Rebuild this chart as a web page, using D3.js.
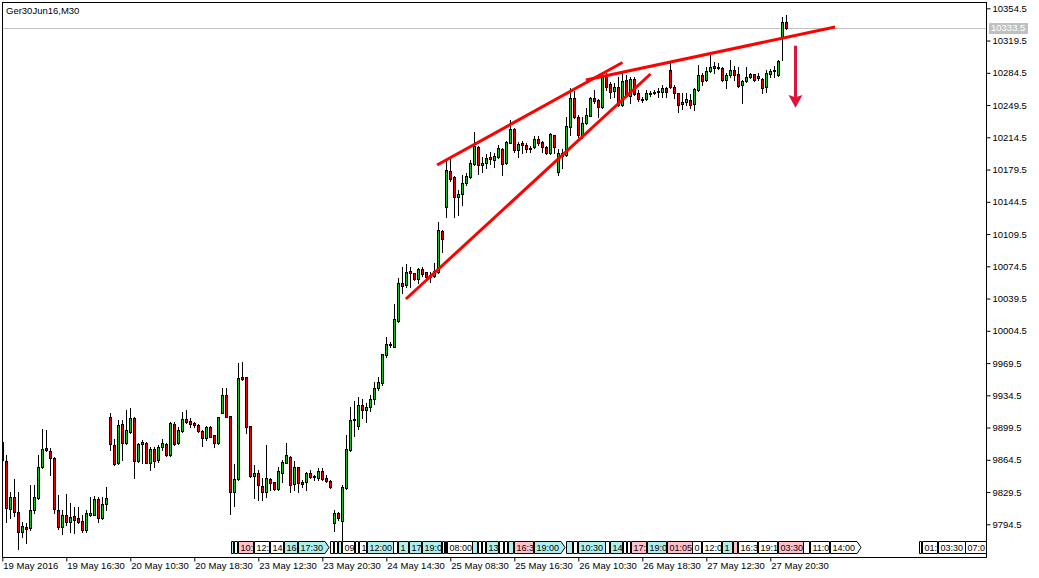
<!DOCTYPE html>
<html><head><meta charset="utf-8">
<script src="https://cdn.jsdelivr.net/npm/d3@7"></script>
<style>
body{margin:0;background:#fff;}
svg{display:block;font-family:"Liberation Sans",Arial,sans-serif;}
</style></head><body>
<svg id="c" width="1039" height="578"></svg>
<script>
// ---------------- DATA ----------------
const symbolTitle = "Ger30Jun16,M30";
const lastPrice = 10333.5;

const opens = [9884,9863.1,9811.0,9824.0,9807.4,9786.4,9791.1,9790.0,9809.6,9823.3,9856.6,9876.9,9874.0,9866.0,9809.6,9791.1,9804.5,9797.3,9803.1,9800.9,9798.0,9787.9,9804.9,9804.9,9821.9,9800.9,9816.1,9910.9,9880.5,9860.6,9903.3,9883.0,9895.0,9909.4,9863.1,9881.2,9882.3,9860.6,9876.1,9864.2,9878.0,9881.2,9869.3,9903.3,9882.3,9896.0,9908.3,9906.5,9904.4,9902.2,9895.7,9887.7,9900.4,9891.0,9882.3,9915.6,9934.8,9912.0,9829.8,9843.2,9953.9,9953.9,9901.1,9847.2,9849.7,9836.0,9829.8,9843.6,9840.0,9832.4,9850.5,9861.3,9867.8,9837.8,9856.2,9840.0,9840.0,9849.7,9845.4,9844.7,9851.9,9844.3,9841.8,9796.2,9806.3,9798.0,9833.4,9875.1,9907.3,9901.5,9923.6,9918.9,9922.1,9930.0,9942.0,9947.4,9978.2,9989.8,9987.2,10015.5,10056.0,10054.2,10069.4,10066.8,10061.0,10071.2,10067.9,10063.2,10064.3,10068.6,10112.8,10139.2,10177.9,10171.0,10150.0,10152.5,10164.5,10171.0,10185.1,10203.9,10184.0,10186.2,10192.7,10189.8,10192.7,10201.4,10186.2,10208.6,10223.1,10200.7,10207.9,10206.1,10201.5,10203.6,10212.2,10209.4,10204.3,10197.1,10216.6,10177.2,10197.1,10195.2,10226.0,10256.7,10236.1,10216.2,10229.6,10237.9,10256.7,10255.0,10247.0,10282.0,10272.0,10264.8,10269.5,10249.6,10276.7,10259.7,10277.8,10262.2,10256.1,10255.7,10261.1,10262.2,10263.3,10263.3,10267.6,10287.5,10269.5,10262.2,10250.3,10253.2,10255.0,10250.3,10265.8,10282.1,10276.3,10286.8,10291.9,10290.1,10290.1,10276.7,10282.1,10287.5,10282.8,10271.3,10275.6,10279.9,10282.8,10278.5,10277.8,10268.7,10282.8,10286.5,10282.1,10321.9,10339.3];
const highs = [9887,9869.6,9829.8,9843.2,9829.8,9796.5,9795.8,9837.1,9837.1,9869.6,9897.9,9896.8,9876.9,9867.8,9826.2,9809.6,9826.9,9817.2,9813.6,9813.6,9804.5,9809.9,9824.4,9825.5,9824.4,9824.4,9835.3,9914.9,9886.6,9907.6,9907.6,9918.5,9920.3,9910.5,9882.3,9885.9,9884.1,9878.7,9878.7,9880.5,9886.6,9882.3,9905.8,9905.8,9900.4,9916.7,9918.5,9909.4,9905.8,9902.9,9896.8,9901.1,9901.1,9891.3,9910.5,9942.0,9942.0,9912.0,9859.9,9969.1,9970.2,9954.6,9901.1,9858.8,9853.4,9844.3,9880.5,9844.3,9840.7,9857.0,9864.2,9883.0,9868.5,9863.1,9857.0,9842.5,9851.5,9853.4,9847.9,9855.2,9855.2,9847.9,9842.5,9809.9,9808.1,9837.1,9891.3,9922.1,9928.0,9932.2,9930.8,9925.7,9934.8,9949.3,9954.7,9979.3,9997.4,9992.7,10033.6,10062.1,10074.1,10077.0,10073.3,10067.5,10072.3,10073.3,10068.6,10068.3,10077.7,10122.9,10113.9,10190.5,10191.6,10172.4,10157.3,10173.5,10175.3,10189.8,10219.8,10205.0,10192.7,10196.3,10198.9,10197.8,10206.1,10202.5,10210.4,10233.2,10224.2,10209.7,10210.4,10208.6,10205.0,10216.2,10215.9,10210.8,10205.0,10218.8,10217.0,10201.4,10201.4,10236.8,10267.6,10265.1,10238.7,10236.8,10245.9,10258.6,10265.8,10255.7,10285.7,10283.9,10274.9,10273.1,10280.3,10283.9,10282.1,10280.3,10280.3,10265.8,10258.6,10265.8,10264.8,10265.8,10267.6,10271.3,10269.5,10294.8,10271.3,10263.0,10262.2,10262.2,10261.1,10267.6,10293.0,10283.9,10291.2,10303.8,10296.6,10294.8,10291.2,10283.9,10298.4,10291.9,10291.2,10276.7,10291.2,10283.9,10283.2,10283.9,10278.5,10287.5,10288.3,10291.9,10298.4,10345.4,10347.2];
const lows = [9858,9797.3,9800.9,9803.8,9768.0,9781.0,9773.8,9788.2,9806.3,9822.2,9855.2,9874.0,9847.9,9806.3,9789.0,9783.5,9793.7,9785.7,9785.3,9795.5,9786.4,9786.4,9803.8,9804.5,9797.3,9800.2,9810.0,9875.1,9858.8,9859.9,9864.2,9881.6,9893.1,9845.0,9862.4,9861.3,9860.6,9853.4,9856.2,9862.4,9875.1,9868.5,9868.5,9880.1,9881.2,9895.0,9904.0,9900.4,9900.4,9895.0,9879.8,9885.9,9888.8,9878.7,9881.6,9915.6,9910.5,9805.2,9814.3,9842.5,9951.0,9893.1,9846.1,9822.6,9820.8,9820.8,9824.4,9831.6,9831.6,9831.6,9840.7,9860.6,9829.8,9831.6,9829.8,9835.3,9831.6,9844.3,9842.5,9842.5,9842.5,9840.7,9833.4,9787.1,9799.1,9777.4,9832.4,9874.3,9890.0,9898.0,9909.5,9905.8,9917.4,9925.4,9940.2,9945.6,9976.4,9987.2,9986.5,10014.4,10045.8,10052.4,10052.4,10059.6,10056.0,10063.9,10059.6,10057.8,10063.2,10067.5,10090.4,10128.3,10167.4,10127.6,10130.1,10141.0,10162.7,10169.9,10184.4,10174.3,10177.2,10180.8,10185.1,10182.6,10191.6,10173.2,10185.1,10207.9,10198.9,10193.4,10197.1,10198.9,10198.9,10202.8,10206.1,10198.9,10196.0,10196.3,10197.8,10173.5,10180.8,10194.2,10217.0,10235.0,10215.1,10213.3,10228.9,10237.6,10251.3,10236.8,10245.9,10265.8,10257.5,10258.6,10248.8,10248.8,10258.6,10251.4,10260.4,10254.3,10253.2,10255.0,10259.7,10261.1,10258.6,10258.6,10258.6,10268.4,10256.8,10241.6,10245.2,10249.6,10246.7,10244.1,10264.8,10271.3,10275.6,10285.7,10283.9,10288.6,10275.6,10268.4,10280.3,10276.7,10269.5,10252.1,10274.9,10278.5,10275.6,10276.7,10262.2,10264.0,10280.3,10280.3,10281.4,10298.4,10332.1];
const closes = [9864,9812.5,9824.0,9807.4,9786.4,9792.2,9789.0,9809.6,9824.0,9856.6,9876.1,9874.7,9866.0,9810.7,9791.1,9804.5,9797.3,9802.3,9799.4,9796.5,9787.9,9806.7,9806.7,9821.9,9800.9,9816.8,9823.3,9881.2,9859.5,9902.2,9882.3,9896.8,9909.4,9863.1,9881.2,9883.7,9861.3,9876.1,9863.1,9878.7,9882.3,9869.3,9904.0,9881.2,9896.8,9908.3,9905.8,9903.6,9902.6,9895.7,9888.4,9899.7,9889.5,9882.3,9910.5,9934.8,9911.2,9829.8,9843.2,9952.8,9951.8,9900.4,9847.2,9849.7,9837.1,9829.8,9844.3,9838.9,9832.4,9852.3,9861.7,9869.3,9837.4,9857.0,9838.9,9837.8,9849.7,9846.1,9846.8,9851.9,9844.0,9841.8,9835.3,9806.3,9800.9,9834.5,9876.1,9907.3,9908.7,9923.9,9918.1,9921.8,9930.4,9942.0,9948.5,9979.3,9990.1,9989.0,10017.3,10056.0,10053.4,10067.9,10067.6,10061.0,10071.2,10066.1,10063.2,10064.7,10069.4,10113.9,10103.7,10179.0,10168.8,10150.0,10152.5,10164.5,10172.4,10186.2,10205.0,10184.0,10186.2,10191.6,10190.5,10194.2,10202.5,10185.1,10209.0,10223.1,10200.3,10207.2,10205.7,10201.4,10203.0,10212.6,10208.6,10204.3,10197.1,10218.0,10203.6,10197.1,10194.2,10226.7,10256.7,10236.1,10217.0,10230.3,10238.7,10256.7,10254.2,10247.7,10282.0,10269.5,10263.3,10269.5,10249.6,10275.6,10259.7,10277.8,10261.1,10255.7,10254.6,10262.2,10262.9,10263.3,10264.8,10268.4,10263.3,10268.7,10262.2,10249.6,10253.2,10255.7,10249.6,10266.6,10282.1,10275.6,10286.5,10291.2,10289.4,10291.2,10276.3,10282.1,10287.5,10282.1,10270.5,10275.6,10280.3,10282.8,10276.7,10281.0,10268.4,10283.9,10286.5,10287.0,10297.3,10339.3,10333.5];

const xTickBars = [0,16,32,48,64,80,96,112,128,144,160,176,192];
const xTickLabels = ["19 May 2016","19 May 16:30","20 May 10:30","20 May 18:30","23 May 12:30","23 May 20:30","24 May 14:30","25 May 08:30","25 May 16:30","26 May 10:30","26 May 18:30","27 May 12:30","27 May 20:30"];
const yTickValues = [9794.5,9829.5,9864.5,9899.5,9934.5,9969.5,10004.5,10039.5,10074.5,10109.5,10144.5,10179.5,10214.5,10249.5,10284.5,10319.5,10354.5];

// trend lines: [bar, price] end points
const upperLine = [[108.7,10184.4],[155.05,10295.7]];
const lowerLine = [[100.9,10039.0],[162.05,10283.2]];
const resistLine = [[145.9,10276.7],[208.2,10334.2]];
const arrowBar = 198.1, arrowFrom = 10313.9, arrowTo = 10246.6;

// calendar events (bar position, time label, impact)
const eventBars = [57.1,58.05,59.0,62.9,66.9,70.4,74.0,81.9,83.0,83.85,84.85,88.25,89.25,91.1,97.7,99.0,101.75,104.85,109.9,110.7,111.1,117.35,119.0,119.85,120.9,124.25,125.4,126.35,127.9,132.9,140.9,142.75,143.85,150.7,151.9,155.1,156.1,157.1,161.1,166.1,172.35,174.85,180.0,182.75,184.0,189.0,194.0,200.25,201.9,206.9,229.2,229.85,234.0,240.7];
const eventLabels = ["08:00","09:00","10:00","12:30","14:00","16:00","17:30","01:50","03:00","08:00","09:00","10:00","11:00","12:00","14:30","16:00","17:00","19:00","01:00","03:00","08:00","09:00","10:00","11:00","13:00","14:00","14:30","15:00","16:30","19:00","08:00","09:00","10:30","13:30","14:30","16:00","16:00","17:00","19:00","01:05","02:00","12:00","14:00","16:00","16:30","19:15","03:30","08:30","11:00","14:00","00:30","01:00","03:30","07:00"];
const eventImpact = ["m","l","h","l","l","m","m","l","l","m","l","l","l","m","l","m","m","m","l","l","l","m","l","l","m","l","l","m","h","m","m","l","m","l","m","l","l","h","m","h","l","l","m","h","l","l","h","l","l","l","l","l","l","l"];

// ---------------- DRAW ----------------
const svg = d3.select("#c");
const L = 3, R = 986, T = 2, B = 557;
const x = d3.scaleLinear().domain([0, 246]).range([2.3, 2.3 + 4 * 246]);
const y = d3.scaleLinear().domain([9794.5, 10354.5]).range([524.3, 8.3]);

svg.append("defs").append("clipPath").attr("id","plotclip")
  .append("rect").attr("x", L).attr("y", T + 1).attr("width", R - L).attr("height", B - T - 1);

const plot = svg.append("g").attr("clip-path","url(#plotclip)");

// current price line
plot.append("line").attr("x1", L).attr("x2", R)
  .attr("y1", Math.round(y(lastPrice)) + 0.5).attr("y2", Math.round(y(lastPrice)) + 0.5)
  .attr("stroke", "#c0c0c0").attr("stroke-width", 1);

// candles
const idx = d3.range(opens.length);
const cg = plot.append("g");
idx.forEach(i => {
  const cx = Math.floor(x(i)) + 0.5;
  const o = opens[i], c = closes[i], h = highs[i], l = lows[i];
  cg.append("line").attr("x1", cx).attr("x2", cx)
    .attr("y1", Math.round(y(h))).attr("y2", Math.round(y(l)) + 1)
    .attr("stroke", "#000").attr("stroke-width", 1);
  const top = Math.round(y(Math.max(o, c))) + 0.5;
  const bot = Math.round(y(Math.min(o, c))) + 0.5;
  if (bot - top < 1) {
    cg.append("line").attr("x1", cx - 1.5).attr("x2", cx + 1.5).attr("y1", top).attr("y2", top)
      .attr("stroke", "#000");
  } else {
    cg.append("rect").attr("x", cx - 1).attr("y", top).attr("width", 2).attr("height", bot - top)
      .attr("fill", c >= o ? "#22b422" : "#e80000").attr("stroke", "#000").attr("stroke-width", 1);
  }
});

// trend lines
const ln = d3.line().x(d => x(d[0])).y(d => y(d[1]));
[upperLine, lowerLine, resistLine].forEach(seg => {
  plot.append("path").attr("d", ln(seg)).attr("fill", "none")
    .attr("stroke", "#ff0000").attr("stroke-width", 3);
});

// arrow
const ax = Math.round(x(arrowBar)) + 0.5;
const tipY = y(arrowTo);
plot.append("line").attr("x1", ax).attr("x2", ax).attr("y1", y(arrowFrom)).attr("y2", tipY - 10)
  .attr("stroke", "#dc143c").attr("stroke-width", 3);
plot.append("path")
  .attr("d", `M${ax-7},${tipY-12.7} L${ax},${tipY-10.5} L${ax+7},${tipY-12.7} L${ax},${tipY} Z`)
  .attr("fill", "#dc143c");

// event strip: later tags are drawn over earlier ones; text never runs past the next tag
const evFill = {h: "#ffc0cb", m: "#b0eeee", l: "#ffffff"};
const eg = plot.append("g");
const lefts = eventBars.map(b => Math.round(x(b)) + 0.5);
lefts.forEach((lx, i) => {
  const next = (i < lefts.length - 1 ? lefts[i + 1] : R + 40);
  const g = eg.append("g");
  const p = g.append("path");
  const t = g.append("text").attr("x", lx + 2).attr("y", 551).attr("font-size", "9px")
    .attr("fill", "#000").text(eventLabels[i]);
  const tl = t.node().getComputedTextLength();
  const full = tl + 8;
  let d;
  const textRoom = Math.min(next, R) - lx - 2;
  if (tl <= textRoom) {
    d = `M${lx},541.5 H${lx+full-4} L${lx+full},547.5 L${lx+full-4},553.5 H${lx} Z`;
  } else {
    d = `M${lx},541.5 H${next - 1} V553.5 H${lx} Z`;
    let s = eventLabels[i];
    while (s.length > 0 && t.text(s).node().getComputedTextLength() > textRoom) s = s.slice(0, -1);
    if (s.length === 0) t.remove(); else t.text(s);
  }
  p.attr("d", d).attr("fill", evFill[eventImpact[i]]).attr("stroke", "#000").attr("stroke-width", 1);
});

// frame
svg.append("line").attr("x1", 2.5).attr("x2", 2.5).attr("y1", T).attr("y2", B + 0.5).attr("stroke", "#000");
svg.append("line").attr("x1", 2.5).attr("x2", R + 0.5).attr("y1", 2.5).attr("y2", 2.5).attr("stroke", "#000");
svg.append("line").attr("x1", R + 0.5).attr("x2", R + 0.5).attr("y1", 2).attr("y2", B + 1).attr("stroke", "#000");
svg.append("line").attr("x1", 2).attr("x2", R + 1).attr("y1", B + 0.5).attr("y2", B + 0.5).attr("stroke", "#000");

// y axis
const yAxis = svg.append("g").attr("transform", `translate(${R + 0.5},0)`)
  .call(d3.axisRight(y).tickValues(yTickValues).tickSize(4).tickPadding(2).tickFormat(d3.format(".1f")));
yAxis.select(".domain").remove();
yAxis.selectAll("text").attr("font-size", "9.5px").attr("font-family", "Liberation Sans, Arial, sans-serif").attr("fill", "#000");
yAxis.selectAll("line").attr("stroke", "#000");

// x axis
const xAxis = svg.append("g").attr("transform", `translate(0,${B + 0.5})`)
  .call(d3.axisBottom(x).tickValues(xTickBars).tickSize(4).tickFormat((d, i) => xTickLabels[i]));
xAxis.select(".domain").remove();
xAxis.selectAll("text").attr("font-size", "9.5px").attr("font-family", "Liberation Sans, Arial, sans-serif")
  .attr("fill", "#000").attr("text-anchor", "start").attr("x", 0.5).attr("y", 11.5).attr("dy", 0);
xAxis.selectAll("line").attr("stroke", "#000");

// current price label
const py = y(lastPrice);
svg.append("rect").attr("x", 989).attr("y", Math.round(py) - 5).attr("width", 39).attr("height", 11).attr("fill", "#c0c0c0");
svg.append("text").attr("x", 991).attr("y", py).attr("dy", "0.35em").attr("font-size", "9.5px")
  .attr("fill", "#fff").text(d3.format(".1f")(lastPrice));

// title
svg.append("text").attr("x", 6).attr("y", 13.5).attr("font-size", "9.5px").attr("fill", "#000").text(symbolTitle);
</script>
</body></html>
